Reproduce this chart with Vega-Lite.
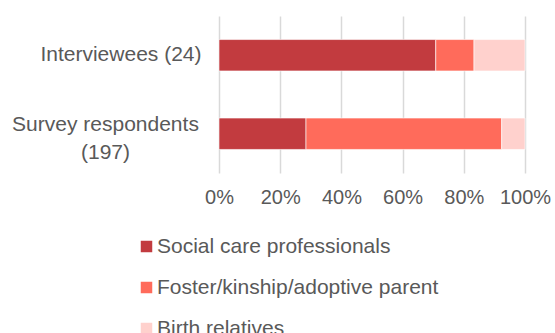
{
  "$schema": "https://vega.github.io/schema/vega-lite/v6.json",
  "width": 306,
  "height": 157,
  "autosize": {"type": "none"},
  "padding": {"left": 219, "top": 16, "right": 30, "bottom": 160},
  "background": "#ffffff",
  "config": {
    "view": {"stroke": null},
    "font": "Liberation Sans",
    "axis": {"labelColor": "#595959", "labelFont": "Liberation Sans"},
    "legend": {"labelColor": "#595959", "labelFont": "Liberation Sans"}
  },
  "data": {
    "values": [
      {"group": "Interviewees (24)", "role": "Social care professionals", "order": 1, "count": 17},
      {"group": "Interviewees (24)", "role": "Foster/kinship/adoptive parent", "order": 2, "count": 3},
      {"group": "Interviewees (24)", "role": "Birth relatives", "order": 3, "count": 4},
      {"group": "Survey respondents (197)", "role": "Social care professionals", "order": 1, "count": 56},
      {"group": "Survey respondents (197)", "role": "Foster/kinship/adoptive parent", "order": 2, "count": 126},
      {"group": "Survey respondents (197)", "role": "Birth relatives", "order": 3, "count": 15}
    ]
  },
  "mark": {"type": "bar", "stroke": "#ffffff", "strokeWidth": 0.6},
  "encoding": {
    "y": {
      "field": "group",
      "type": "nominal",
      "sort": ["Interviewees (24)", "Survey respondents (197)"],
      "scale": {"paddingInner": 0.6, "paddingOuter": 0.3},
      "axis": {
        "title": null,
        "domain": false,
        "ticks": false,
        "labelFontSize": 21,
        "labelPadding": {"condition": {"test": "datum.value == 'Survey respondents (197)'", "value": 114}, "value": 18},
        "labelAlign": {"condition": {"test": "datum.value == 'Survey respondents (197)'", "value": "center"}, "value": "right"},
        "labelOffset": {"condition": {"test": "datum.value == 'Survey respondents (197)'", "value": -9}, "value": 0},
        "labelLineHeight": 28,
        "labelLimit": 300,
        "labelExpr": "datum.value == 'Survey respondents (197)' ? ['Survey respondents', '(197)'] : datum.value"
      }
    },
    "x": {
      "field": "count",
      "type": "quantitative",
      "stack": "normalize",
      "scale": {"domain": [0, 1], "nice": false},
      "axis": {
        "title": null,
        "format": ".0%",
        "values": [0, 0.2, 0.4, 0.6, 0.8, 1],
        "domain": false,
        "ticks": false,
        "grid": true,
        "gridColor": "#d9d9d9",
        "gridWidth": 1.5,
        "labelFontSize": 20,
        "labelPadding": 14,
        "labelFlush": false
      }
    },
    "color": {
      "field": "role",
      "type": "nominal",
      "sort": ["Social care professionals", "Foster/kinship/adoptive parent", "Birth relatives"],
      "scale": {
        "domain": ["Social care professionals", "Foster/kinship/adoptive parent", "Birth relatives"],
        "range": ["#c23b3f", "#ff6b5b", "#ffd1cd"]
      },
      "legend": {
        "title": null,
        "orient": "none",
        "legendX": -83,
        "legendY": 220,
        "direction": "vertical",
        "symbolType": "square",
        "symbolSize": 132,
        "symbolStrokeWidth": 0,
        "labelFontSize": 21,
        "labelOffset": 0,
        "rowPadding": 19,
        "labelLimit": 400
      }
    },
    "order": {"field": "order", "type": "quantitative"}
  }
}
